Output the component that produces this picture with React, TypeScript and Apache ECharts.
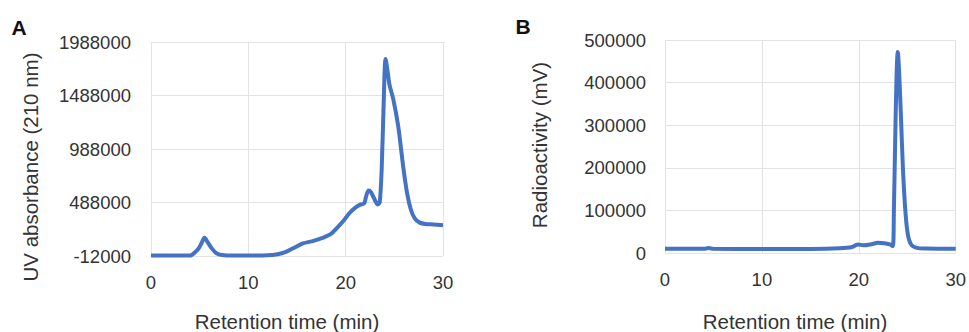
import React, { useEffect, useRef } from "react";
import * as echarts from "echarts";

// Panel A: UV absorbance (210 nm) vs retention time (min)
const timeA = [0, 2, 4.0, 4.6, 4.9, 5.2, 5.5, 5.8, 6.2, 6.7, 7.3, 8.5, 10, 12, 13, 13.8, 14.6, 15.6, 16.7, 17.7, 18.5, 19.0, 19.8, 20.4, 21.0, 21.5, 21.9, 22.1, 22.35, 22.6, 22.9, 23.3, 23.5, 23.7, 23.9, 24.1, 24.3, 24.5, 24.9, 25.4, 25.9, 26.3, 26.7, 27.1, 27.6, 28.2, 29.0, 30];
const uvA = [-8000, -8000, -8000, 30000, 60000, 110000, 158000, 120000, 65000, 15000, -3000, -8000, -8000, -6000, 5000, 24000, 60000, 105000, 130000, 160000, 195000, 240000, 320000, 390000, 440000, 468000, 480000, 545000, 600000, 585000, 530000, 470000, 490000, 800000, 1400000, 1830000, 1720000, 1590000, 1450000, 1200000, 830000, 580000, 420000, 340000, 300000, 287000, 283000, 276000];
const yTicksA = [-12000, 488000, 988000, 1488000, 1988000];

// Panel B: Radioactivity (mV) vs retention time (min)
const timeB = [0, 4.0, 4.5, 5.0, 10, 15, 18, 19.3, 19.9, 20.5, 21.2, 22.0, 22.6, 23.2, 23.5, 23.62, 23.75, 23.9, 24.02, 24.15, 24.35, 24.55, 24.8, 25.05, 25.4, 26.0, 27, 30];
const radB = [10000, 10000, 11500, 10000, 9500, 9500, 11000, 14000, 20000, 18000, 20000, 24000, 23000, 20000, 16000, 100000, 260000, 420000, 472000, 430000, 320000, 200000, 100000, 45000, 20000, 12000, 10500, 10000];
const yTicksB = [0, 100000, 200000, 300000, 400000, 500000];

const xTicks = [0, 10, 20, 30];

const BLUE = "#4472C4";
const GRID = "#e3e3e3";
const TXT = "#333333";
const FONT = "Liberation Sans, Arial, sans-serif";

export default function App() {
  const ref = useRef<HTMLDivElement>(null);
  useEffect(() => {
    document.body.style.margin = "0";
    if (!ref.current) return;
    const chart = echarts.init(ref.current, undefined, { renderer: "svg" });
    const offA = yTicksA[0];
    const stepA = yTicksA[1] - yTicksA[0];
    const stepB = yTicksB[1] - yTicksB[0];
    const xAxisBase = (gridIndex: number) => ({
      type: "value",
      gridIndex,
      min: xTicks[0],
      max: xTicks[xTicks.length - 1],
      interval: xTicks[1] - xTicks[0],
      axisLine: { show: false },
      axisTick: { show: false },
      axisLabel: { color: TXT, fontSize: 18.5, fontFamily: FONT, margin: 17 },
      splitLine: { show: true, lineStyle: { color: GRID, width: 1 } },
    });
    chart.setOption({
      animation: false,
      textStyle: { fontFamily: FONT },
      grid: [
        { left: 151, top: 42, width: 292, height: 214 },
        { left: 665, top: 40, width: 292, height: 213 },
      ],
      xAxis: [xAxisBase(0), xAxisBase(1)],
      yAxis: [
        {
          type: "value",
          gridIndex: 0,
          min: 0,
          max: yTicksA[yTicksA.length - 1] - offA,
          interval: stepA,
          axisLine: { show: false },
          axisTick: { show: false },
          axisLabel: {
            color: TXT,
            fontSize: 18.5,
            fontFamily: FONT,
            margin: 20,
            formatter: (v: number) => String(v + offA),
          },
          splitLine: { show: true, lineStyle: { color: GRID, width: 1 } },
        },
        {
          type: "value",
          gridIndex: 1,
          min: yTicksB[0],
          max: yTicksB[yTicksB.length - 1],
          interval: stepB,
          axisLine: { show: false },
          axisTick: { show: false },
          axisLabel: {
            color: TXT,
            fontSize: 18.5,
            fontFamily: FONT,
            margin: 19,
            formatter: (v: number) => String(v),
          },
          splitLine: { show: true, lineStyle: { color: GRID, width: 1 } },
        },
      ],
      series: [
        {
          type: "line",
          xAxisIndex: 0,
          yAxisIndex: 0,
          data: timeA.map((t, i) => [t, uvA[i] - offA]),
          showSymbol: false,
          smooth: 0.3,
          lineStyle: { color: BLUE, width: 4 },
          itemStyle: { color: BLUE },
        },
        {
          type: "line",
          xAxisIndex: 1,
          yAxisIndex: 1,
          data: timeB.map((t, i) => [t, radB[i]]),
          showSymbol: false,
          smooth: 0.3,
          lineStyle: { color: BLUE, width: 4 },
          itemStyle: { color: BLUE },
        },
      ],
      graphic: [
        { type: "text", x: 19, y: 27, style: { text: "A", font: `bold 21px ${FONT}`, fill: "#111", align: "center", verticalAlign: "middle" } },
        { type: "text", x: 523, y: 26, style: { text: "B", font: `bold 21px ${FONT}`, fill: "#111", align: "center", verticalAlign: "middle" } },
        { type: "text", x: 30, y: 167, rotation: Math.PI / 2, style: { text: "UV absorbance (210 nm)", font: `20.5px ${FONT}`, fill: TXT, align: "center", verticalAlign: "middle" } },
        { type: "text", x: 539, y: 145, rotation: Math.PI / 2, style: { text: "Radioactivity (mV)", font: `20.5px ${FONT}`, fill: TXT, align: "center", verticalAlign: "middle" } },
        { type: "text", x: 287, y: 321, style: { text: "Retention time (min)", font: `20.5px ${FONT}`, fill: TXT, align: "center", verticalAlign: "middle" } },
        { type: "text", x: 795, y: 321, style: { text: "Retention time (min)", font: `20.5px ${FONT}`, fill: TXT, align: "center", verticalAlign: "middle" } },
      ],
    });
    return () => chart.dispose();
  }, []);
  return <div ref={ref} style={{ width: 969, height: 332 }} />;
}
